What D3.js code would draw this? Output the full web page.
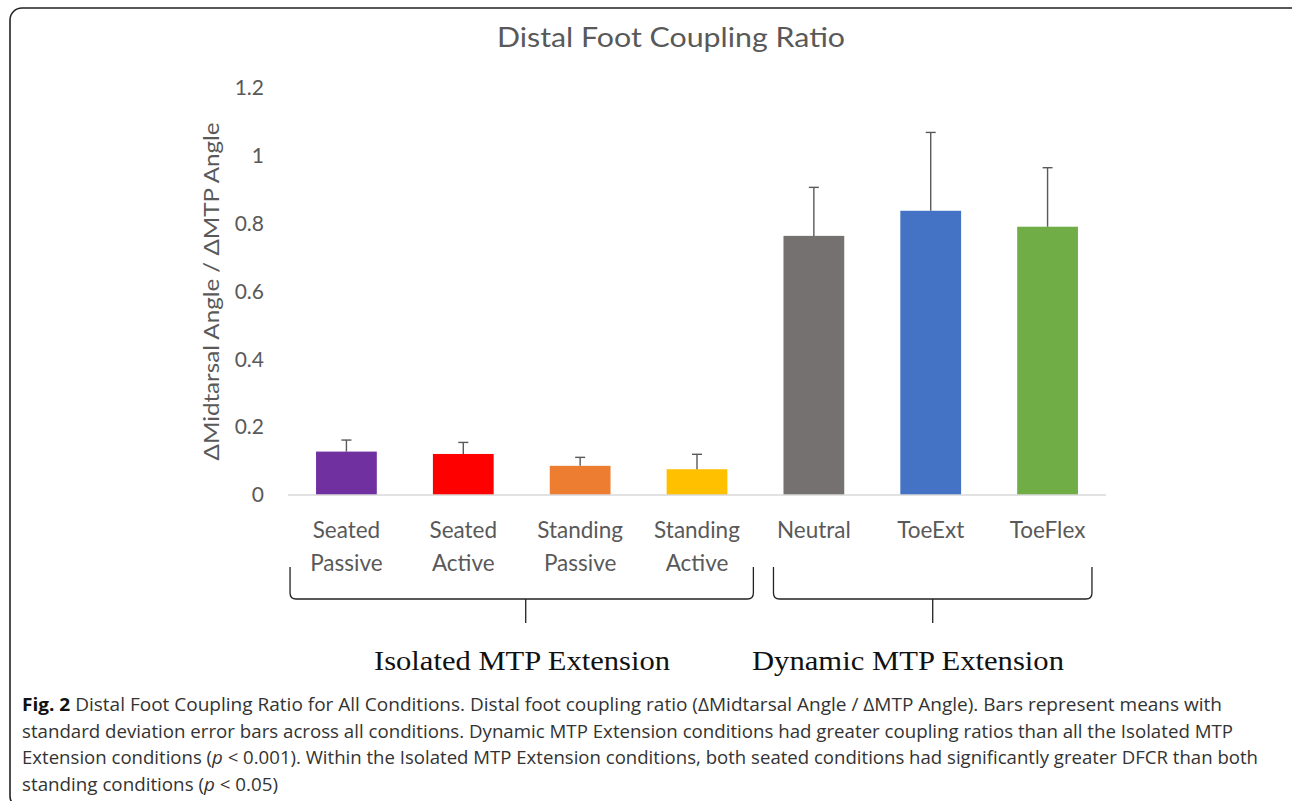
<!DOCTYPE html>
<html>
<head>
<meta charset="utf-8">
<script src="https://cdn.jsdelivr.net/npm/d3@7"></script>
<style>
  html, body { margin: 0; padding: 0; background: #fff; }
  svg { display: block; }
</style>
</head>
<body>
<div id="chart"></div>
<script>
// chart values
const categories = [
  ["Seated", "Passive"], ["Seated", "Active"], ["Standing", "Passive"], ["Standing", "Active"],
  ["Neutral"], ["ToeExt"], ["ToeFlex"]
];
const means = [0.128, 0.121, 0.086, 0.076, 0.764, 0.838, 0.791];
const sds = [0.034, 0.034, 0.025, 0.044, 0.143, 0.231, 0.174];
const barColors = ["#7030A0", "#FF0000", "#ED7D31", "#FFC000", "#767171", "#4472C4", "#70AD47"];
const yTicks = [0, 0.2, 0.4, 0.6, 0.8, 1, 1.2];
const groupNames = ["Isolated MTP Extension", "Dynamic MTP Extension"];
const groupRanges = [[0, 3], [4, 6]];

const width = 1292;
const height = 801;
const margin = { top: 88, left: 288, right: 186, bottom: 306 }; // plot box

const svg = d3.select("#chart")
    .append("svg")
    .attr("width", width)
    .attr("height", height);

// outer rounded frame
svg.append("rect")
    .attr("x", 10).attr("y", 8)
    .attr("width", 1300).attr("height", 800)
    .attr("rx", 12)
    .attr("fill", "none")
    .attr("stroke", "#222")
    .attr("stroke-width", 1.6);

const idx = d3.range(categories.length);

const xScale = d3.scaleBand()
    .domain(idx)
    .range([margin.left, width - margin.right])
    .paddingInner(0.48)
    .paddingOuter(0.24);

const yScale = d3.scaleLinear()
    .domain([0, 1.2])
    .range([height - margin.bottom, margin.top]);

// title
svg.append("text")
    .attr("x", 671).attr("y", 47)
    .attr("text-anchor", "middle")
    .attr("font-family", "Lato, 'Open Sans', sans-serif")
    .attr("font-size", 27)
    .attr("fill", "#595959")
    .attr("textLength", 348)
    .attr("lengthAdjust", "spacingAndGlyphs")
    .text("Distal Foot Coupling Ratio");

// y axis (labels only)
const yAxis = svg.append("g")
    .attr("transform", `translate(${margin.left - 10}, 0)`)
    .call(d3.axisLeft(yScale)
        .tickValues(yTicks)
        .tickSize(0)
        .tickPadding(14)
        .tickFormat(d => d3.format("")(+d.toFixed(1))));
yAxis.select(".domain").remove();
yAxis.selectAll("text")
    .attr("font-family", "Lato, 'Open Sans', sans-serif")
    .attr("font-size", 21)
    .attr("fill", "#595959");

// y axis title
svg.append("text")
    .attr("transform", `translate(219, ${yScale(0.6)}) rotate(-90)`)
    .attr("text-anchor", "middle")
    .attr("font-family", "Lato, 'Open Sans', sans-serif")
    .attr("font-size", 22)
    .attr("fill", "#595959")
    .attr("textLength", 338)
    .attr("lengthAdjust", "spacingAndGlyphs")
    .text("ΔMidtarsal Angle / ΔMTP Angle");

// bars
svg.selectAll("rect.bar")
    .data(idx)
    .enter()
    .append("rect")
    .attr("class", "bar")
    .attr("x", i => xScale(i))
    .attr("y", i => yScale(means[i]))
    .attr("width", xScale.bandwidth())
    .attr("height", i => yScale(0) - yScale(means[i]))
    .attr("fill", i => barColors[i]);

// baseline
svg.append("line")
    .attr("x1", margin.left).attr("x2", width - margin.right)
    .attr("y1", yScale(0)).attr("y2", yScale(0))
    .attr("stroke", "#d9d9d9")
    .attr("stroke-width", 1.5);

// error bars (upper only)
const err = svg.append("g")
    .attr("stroke", "#595959")
    .attr("stroke-width", 1.4);
idx.forEach(i => {
    const cx = xScale(i) + xScale.bandwidth() / 2;
    err.append("line")
        .attr("x1", cx).attr("x2", cx)
        .attr("y1", yScale(means[i])).attr("y2", yScale(means[i] + sds[i]));
    err.append("line")
        .attr("x1", cx - 5).attr("x2", cx + 5)
        .attr("y1", yScale(means[i] + sds[i])).attr("y2", yScale(means[i] + sds[i]));
});

// category labels
const catLabels = svg.selectAll("text.cat")
    .data(idx)
    .enter()
    .append("text")
    .attr("class", "cat")
    .attr("text-anchor", "middle")
    .attr("font-family", "Lato, 'Open Sans', sans-serif")
    .attr("font-size", 22.5)
    .attr("fill", "#595959");
catLabels.each(function (i) {
    const cx = xScale(i) + xScale.bandwidth() / 2;
    categories[i].forEach((line, k) => {
        d3.select(this).append("tspan")
            .attr("x", cx)
            .attr("y", 538 + k * 33)
            .text(line);
    });
});

// group brackets
groupRanges.forEach(([a, b], g) => {
    const left = g === 0 ? xScale(a) - 26 : xScale(a) - 10;
    const right = g === 0 ? xScale(b) + xScale.bandwidth() + 26 : xScale(b) + xScale.bandwidth() + 14;
    const top = 567, bot = 599, r = 6;
    const mid = (left + right) / 2 + (g === 0 ? 4 : 0);
    const path = d3.path();
    path.moveTo(left, top);
    path.lineTo(left, bot - r);
    path.quadraticCurveTo(left, bot, left + r, bot);
    path.lineTo(right - r, bot);
    path.quadraticCurveTo(right, bot, right, bot - r);
    path.lineTo(right, top);
    path.moveTo(mid, bot);
    path.lineTo(mid, 623);
    svg.append("path")
        .attr("d", path.toString())
        .attr("fill", "none")
        .attr("stroke", "#222")
        .attr("stroke-width", 1.3);

    svg.append("text")
        .attr("x", g === 0 ? 522 : 908)
        .attr("y", 670)
        .attr("text-anchor", "middle")
        .attr("font-family", "'Liberation Serif', 'Times New Roman', serif")
        .attr("font-size", 28)
        .attr("fill", "#111")
        .attr("textLength", g === 0 ? 296 : 312)
        .attr("lengthAdjust", "spacingAndGlyphs")
        .text(groupNames[g]);
});

// caption
const capLines = [
    { parts: [["b", "Fig. 2"], ["n", " Distal Foot Coupling Ratio for All Conditions. Distal foot coupling ratio (ΔMidtarsal Angle / ΔMTP Angle). Bars represent means with"]], len: 1200 },
    { parts: [["n", "standard deviation error bars across all conditions. Dynamic MTP Extension conditions had greater coupling ratios than all the Isolated MTP"]], len: 1211 },
    { parts: [["n", "Extension conditions ("], ["i", "p"], ["n", " < 0.001). Within the Isolated MTP Extension conditions, both seated conditions had significantly greater DFCR than both"]], len: 1236 },
    { parts: [["n", "standing conditions ("], ["i", "p"], ["n", " < 0.05)"]], len: 256 }
];
capLines.forEach((ln, k) => {
    const t = svg.append("text")
        .attr("x", 22)
        .attr("y", 711 + k * 26.5)
        .attr("font-family", "'Open Sans', sans-serif")
        .attr("font-size", 18)
        .attr("fill", "#333")
        .attr("textLength", ln.len)
        .attr("lengthAdjust", "spacingAndGlyphs");
    ln.parts.forEach(([kind, s]) => {
        const sp = t.append("tspan").text(s);
        if (kind === "b") sp.attr("font-weight", "bold").attr("fill", "#111");
        if (kind === "i") sp.attr("font-style", "italic");
    });
});
</script>
</body>
</html>
